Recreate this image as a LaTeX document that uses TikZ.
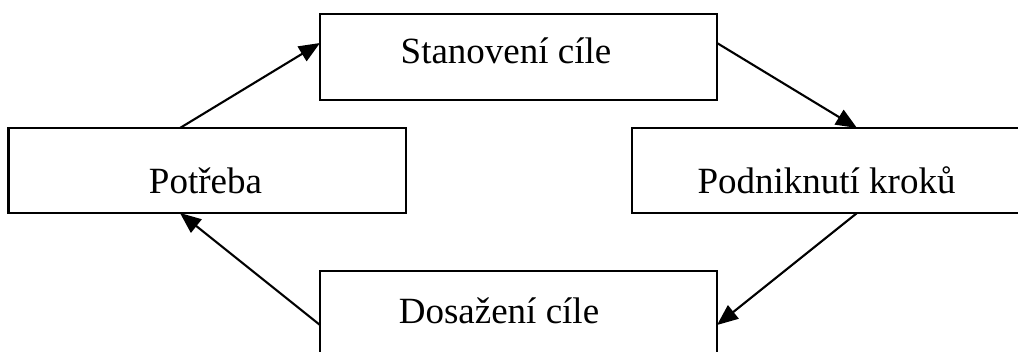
\documentclass[tikz,border=0pt]{standalone}
\usepackage{fontspec}
\setmainfont{Liberation Serif}
\usetikzlibrary{arrows.meta}
\begin{document}
\begin{tikzpicture}[x=1pt,y=-1pt,
  stagebox/.style={draw=black,line width=2.1pt,fill=white,rectangle,inner sep=0pt,outer sep=0pt},
  stagetext/.style={anchor=base,inner sep=0pt,font=\fontsize{37}{44}\selectfont},
  flow/.style={line width=2.1pt,-{Triangle[length=21pt,width=17pt]}}]
  \useasboundingbox (0,0) rectangle (1018,351);
  \fill[white] (0,0) rectangle (1018,351);
  \clip (0,0) rectangle (1018,351);

  % the four stages of the cycle
  \node[stagebox,minimum width=397pt,minimum height=86pt] (cil) at (518.5,57) {};
  \node[stagebox,minimum width=397.5pt,minimum height=85pt] (potreba) at (207.25,170.5) {};
  \node[stagebox,minimum width=408pt,minimum height=85pt] (kroky) at (836,170.5) {};
  \node[stagebox,minimum width=397pt,minimum height=109pt] (dosazeni) at (518.5,325.5) {};

  % labels, set in the lower part of each box
  \node[stagetext] (tcil) at (506,63) {Stanovení cíle};
  \node[stagetext] (tpotreba) at (205.5,193) {Potřeba};
  \node[stagetext] (tkroky) at (826.5,193) {Podniknutí kroků};
  \node[stagetext] (tdosazeni) at (499,323) {Dosažení cíle};

  % arrows running clockwise round the cycle
  \draw[flow] ([xshift=171.5pt]potreba.north west) -- ([yshift=-29pt]cil.north west);
  \draw[flow] ([yshift=-29pt]cil.north east) -- ([xshift=225pt]kroky.north west);
  \draw[flow] ([xshift=225pt]kroky.south west) -- ([yshift=-54pt]dosazeni.north east);
  \draw[flow] ([yshift=-54pt]dosazeni.north west) -- ([xshift=171.5pt]potreba.south west);
\end{tikzpicture}
\end{document}
